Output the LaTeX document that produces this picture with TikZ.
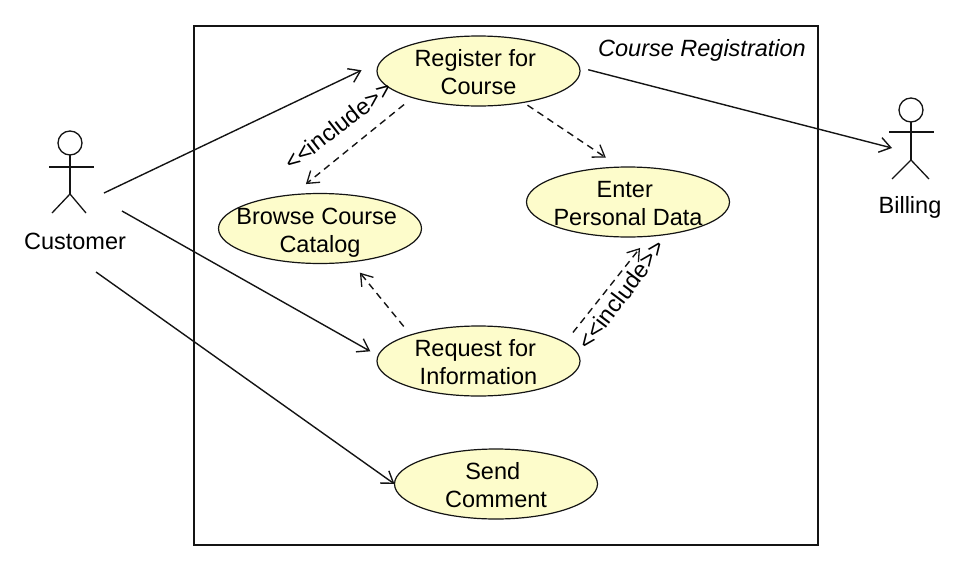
\documentclass[tikz,border=0pt]{standalone}
\usepackage{fontspec}
\setmainfont{Liberation Sans}
\usetikzlibrary{shapes.geometric,arrows.meta}
\definecolor{ucfill}{HTML}{FDFCCB}
\definecolor{ink}{HTML}{141414}
\newcommand{\dn}{\rule{0pt}{20pt}}
\newcommand{\tsp}{\hspace*{6.5pt}}
\tikzset{
  usecase/.style={ellipse,draw=ink,line width=1.2pt,fill=ucfill,minimum width=203pt,minimum height=70pt,inner xsep=-20pt,inner ysep=-10pt,outer sep=0pt,align=center,font=\fontsize{23.5}{28}\selectfont},
  label/.style={font=\fontsize{23.5}{28}\selectfont,inner sep=0pt,text=black},
  head/.style={circle,draw=ink,line width=1.3pt,minimum size=24pt,inner sep=0pt,outer sep=0pt},
  limb/.style={draw=ink,line width=1.3pt},
  assoc/.style={draw=ink,line width=1.4pt,-{Straight Barb[length=11pt,width=15pt,line width=1.4pt]}},
  dep/.style={draw=ink,line width=1.4pt,dash pattern=on 7pt off 5pt,-{Straight Barb[length=11pt,width=15pt,line width=1.3pt]}}
}
\begin{document}
\begin{tikzpicture}[x=1pt,y=-1pt]
\useasboundingbox (0,0) rectangle (978,568);
\node[draw=ink,line width=1.3pt,minimum width=624pt,minimum height=519pt,inner sep=0pt,outer sep=0pt] (system) at (506,285.5) {};
\node[label,font=\fontsize{23.5}{28}\selectfont\itshape] (systitle) at (702,50) {Course Registration};

\node[usecase] (register) at (478.5,71) {\dn Register for\tsp\\Course};
\node[usecase] (browse) at (320,228.5) {\rule{0pt}{24pt}Browse Course\tsp\\Catalog};
\node[usecase] (enter) at (628,202) {\dn Enter\tsp\\Personal Data};
\node[usecase] (request) at (478.5,361) {\dn Request for\tsp\\Information};
\node[usecase] (send) at (496,484) {\dn Send\tsp\\Comment};

% Customer actor
\node[head] (custhead) at (70,143) {};
\coordinate (custhip) at (70,194);
\coordinate (custlarm) at (49,167);
\coordinate (custrarm) at (94,167);
\coordinate (custlleg) at (52,213);
\coordinate (custrleg) at (86,213);
\draw[limb] (custhead.south) -- (custhip);
\draw[limb] (custlarm) -- (custrarm);
\draw[limb] (custlleg) -- (custhip) -- (custrleg);
\node[label] (customer) at (75,241.5) {Customer};

% Billing actor
\node[head] (billhead) at (911,110) {};
\coordinate (billhip) at (911,160);
\coordinate (billlarm) at (889,132);
\coordinate (billrarm) at (934,132);
\coordinate (billlleg) at (892,179);
\coordinate (billrleg) at (929,179);
\draw[limb] (billhead.south) -- (billhip);
\draw[limb] (billlarm) -- (billrarm);
\draw[limb] (billlleg) -- (billhip) -- (billrleg);
\node[label] (billing) at (910,207) {Billing};

% Free ends near the actors
\coordinate (custA) at (104,193);
\coordinate (custB) at (122,211);
\coordinate (custC) at (96,272);
\coordinate (billA) at (892,148);

% Associations
\draw[assoc,shorten >=22pt] (custA) -- (register.174);
\draw[assoc,shorten >=9pt] (custB) -- (request.177);
\draw[assoc] (custC) -- (send.180);
\draw[assoc,shorten <=9pt] (register.2) -- (billA);

% Dependencies
\draw[dep,shorten <=5pt,shorten >=17pt] (register.-35) -- (enter.103);
\draw[dep,shorten <=11pt,shorten >=17pt] (register.202) -- (browse.129);
\draw[dep,shorten <=11pt,shorten >=14pt] (request.159) -- (browse.-47);
\draw[dep,shorten <=13pt,shorten >=15pt] (request.12) -- (enter.-58);

% Stereotypes
\node[label,rotate=38] (incl1) at (338,125.5) {{<}{<}include{>}{>}};
\node[label,rotate=53] (incl2) at (621.5,294.5) {{<}{<}include{>}{>}};
\end{tikzpicture}
\end{document}
